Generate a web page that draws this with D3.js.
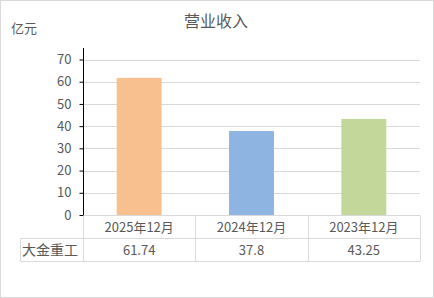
<!DOCTYPE html>
<html>
<head>
<meta charset="utf-8">
<script src="https://cdn.jsdelivr.net/npm/d3@7"></script>
<style>
  body { margin: 0; background: #fff; }
  svg text { font-family: "Noto Sans CJK SC", "DejaVu Sans", sans-serif; fill: #595959; }
</style>
</head>
<body>
<script>
// chart values
var categories = ["2025年12月", "2024年12月", "2023年12月"];
var seriesName = "大金重工";
var values = [61.74, 37.8, 43.25];
var valueLabels = ["61.74", "37.8", "43.25"];
var barColors = ["#F8C08E", "#8EB4E2", "#C4D79B"];
var yTicks = [0, 10, 20, 30, 40, 50, 60, 70];

var width = 434, height = 298;
var plotLeft = 83, plotRight = 420, plotTop = 59.5, plotBottom = 215;
var rowH = 23;

var svg = d3.select("body").append("svg")
    .attr("width", width)
    .attr("height", height);

// outer frame
svg.append("rect")
    .attr("x", 0.5).attr("y", 0.5)
    .attr("width", width - 1).attr("height", height - 1)
    .attr("fill", "#fff")
    .attr("stroke", "#d9d9d9");

var x = d3.scaleBand()
    .domain(categories)
    .range([plotLeft, plotRight])
    .padding(0);

var y = d3.scaleLinear()
    .domain([0, 70])
    .range([plotBottom, plotTop]);

// gridlines
svg.append("g").selectAll("line")
    .data(yTicks)
    .enter().append("line")
    .attr("x1", plotLeft).attr("x2", plotRight)
    .attr("y1", function(d){ return Math.round(y(d)) + 0.5; })
    .attr("y2", function(d){ return Math.round(y(d)) + 0.5; })
    .attr("stroke", "#d9d9d9");

// bars
var barW = x.bandwidth() * 0.4;
svg.append("g").selectAll("rect")
    .data(values)
    .enter().append("rect")
    .attr("x", function(d, i){ return x(categories[i]) + (x.bandwidth() - barW) / 2; })
    .attr("y", function(d){ return y(d); })
    .attr("width", barW)
    .attr("height", function(d){ return plotBottom - y(d); })
    .attr("fill", function(d, i){ return barColors[i]; });

// y axis
var yAxis = d3.axisLeft(y).tickValues(yTicks).tickSize(4).tickPadding(8);
var axis = svg.append("g")
    .attr("transform", "translate(" + (plotLeft + 0.5) + ",0)")
    .call(yAxis);
axis.select(".domain").remove();
axis.selectAll(".tick line").attr("stroke", "#000");
axis.selectAll(".tick text")
    .attr("font-size", 13)
    .attr("fill", "#595959")
    .style("font-family", '"Noto Sans CJK SC", sans-serif');
svg.append("line")
    .attr("x1", plotLeft + 0.5).attr("x2", plotLeft + 0.5)
    .attr("y1", 48).attr("y2", plotBottom + 0.5)
    .attr("stroke", "#000");

// data table
var tbl = svg.append("g");
var rowTop = Math.round(plotBottom) + 0.5;
var rowMid = rowTop + rowH;
var rowBot = rowMid + rowH;
var tableLeft = 20.5;

tbl.append("line")
    .attr("x1", tableLeft).attr("x2", plotRight)
    .attr("y1", rowMid).attr("y2", rowMid)
    .attr("stroke", "#d9d9d9");
tbl.append("line")
    .attr("x1", tableLeft).attr("x2", plotRight)
    .attr("y1", rowBot).attr("y2", rowBot)
    .attr("stroke", "#d9d9d9");
tbl.append("line")
    .attr("x1", tableLeft).attr("x2", tableLeft)
    .attr("y1", rowMid).attr("y2", rowBot)
    .attr("stroke", "#d9d9d9");
var colEdges = categories.map(function(c){ return x(c); }).concat([plotRight]);
tbl.selectAll(".vline")
    .data(colEdges)
    .enter().append("line")
    .attr("class", "vline")
    .attr("x1", function(d){ return Math.round(d) + 0.5; })
    .attr("x2", function(d){ return Math.round(d) + 0.5; })
    .attr("y1", rowTop).attr("y2", rowBot)
    .attr("stroke", "#d9d9d9");

tbl.selectAll(".cat")
    .data(categories)
    .enter().append("text")
    .attr("class", "cat")
    .attr("x", function(d){ return x(d) + x.bandwidth() / 2; })
    .attr("y", rowTop + rowH / 2)
    .attr("dy", "0.35em")
    .attr("text-anchor", "middle")
    .attr("font-size", 13)
    .text(function(d){ return d; });

tbl.selectAll(".val")
    .data(valueLabels)
    .enter().append("text")
    .attr("class", "val")
    .attr("x", function(d, i){ return x(categories[i]) + x.bandwidth() / 2; })
    .attr("y", rowMid + rowH / 2)
    .attr("dy", "0.35em")
    .attr("text-anchor", "middle")
    .attr("font-size", 13)
    .text(function(d){ return d; });

tbl.append("text")
    .attr("x", 22)
    .attr("y", rowMid + rowH / 2)
    .attr("dy", "0.35em")
    .attr("font-size", 14)
    .text(seriesName);

// title and unit
svg.append("text")
    .attr("x", 216)
    .attr("y", 27)
    .attr("text-anchor", "middle")
    .attr("font-size", 16)
    .text("营业收入");

svg.append("text")
    .attr("x", 11)
    .attr("y", 33)
    .attr("font-size", 13)
    .text("亿元");
</script>
</body>
</html>
